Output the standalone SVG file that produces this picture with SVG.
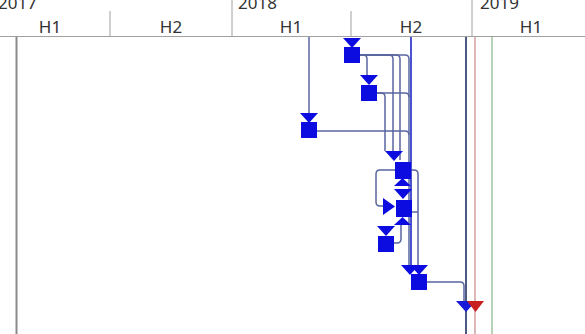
<svg xmlns="http://www.w3.org/2000/svg" width="585" height="334" viewBox="0 0 585 334">
<style>
.hdr{font-family:"Noto Sans","Liberation Sans",sans-serif;font-size:17px;fill:#333}
.grid{stroke:#a0a0a0;stroke-width:1;fill:none}
.conn{stroke:#5a66a0;stroke-width:1.5;fill:none}
.strong{stroke:#2b35c8;stroke-width:1.7;fill:none}
.task{fill:#0c0ce0}
</style>
<defs>
<polygon id="tri" points="-9,0 9,0 0,10" class="task"/>
</defs>
<rect width="585" height="334" fill="#fff"/>
<g id="header">
<text class="hdr" x="-2" y="9">2017</text>
<text class="hdr" x="238" y="9">2018</text>
<text class="hdr" x="480" y="9">2019</text>
<text class="hdr" x="50" y="33" text-anchor="middle">H1</text>
<text class="hdr" x="171" y="33" text-anchor="middle">H2</text>
<text class="hdr" x="291" y="33" text-anchor="middle">H1</text>
<text class="hdr" x="411" y="33" text-anchor="middle">H2</text>
<text class="hdr" x="531" y="33" text-anchor="middle">H1</text>
<line class="grid" x1="110" y1="11" x2="110" y2="36"/>
<line class="grid" x1="232" y1="0" x2="232" y2="36"/>
<line class="grid" x1="351" y1="11" x2="351" y2="36"/>
<line class="grid" x1="472" y1="0" x2="472" y2="36"/>
<line class="grid" x1="0" y1="36.5" x2="585" y2="36.5"/>
<line x1="16.5" y1="37" x2="16.5" y2="334" stroke="#8a8a8a" stroke-width="2"/>
</g>
<g id="markers">
<line x1="466" y1="37" x2="466" y2="334" stroke="#4a5a82" stroke-width="2"/>
<line x1="475" y1="37" x2="475" y2="334" stroke="#d6a6a6" stroke-width="1.6"/>
<line x1="492" y1="37" x2="492" y2="334" stroke="#a6c8a6" stroke-width="1.6"/>
</g>
<g id="connectors">
<path class="conn" d="M360,55 H363 Q367,55 367,59 V76"/>
<path class="conn" d="M360,55 H389 Q393,55 393,59 V151"/>
<path class="conn" d="M360,55 H396 Q400,55 400,59 V160"/>
<path class="conn" d="M360,55 H405 Q409,55 409,59 V266"/>
<path class="conn" d="M377,93 H381 Q385,93 385,97 V151"/>
<path class="conn" d="M377,93 H405 Q409,93 409,97"/>
<path class="conn" d="M317,131 H405 Q409,131 409,135"/>
<path class="conn" d="M309,37 V113"/>
<path class="conn" d="M395,170 H380 Q376,170 376,174 V202 Q376,206 380,206 H384"/>
<path class="conn" d="M411,170 H414 Q418,170 418,174 V266"/>
<path class="conn" d="M411,212 H418"/>
<path class="conn" d="M393,243 H397 Q401,243 401,239 V224"/>
<path class="conn" d="M427,282 H460 Q464,282 464,286 V302"/>
<path class="strong" d="M411,37 V266"/>
</g>
<g id="task-a"><use href="#tri" x="352" y="38"/><rect class="task" x="344" y="47" width="16" height="16"/></g>
<g id="task-b"><use href="#tri" x="369" y="75"/><rect class="task" x="361" y="85" width="16" height="16"/></g>
<g id="task-c"><use href="#tri" x="309" y="113"/><rect class="task" x="301" y="122" width="16" height="16"/></g>
<g id="task-d"><use href="#tri" x="394" y="151"/><rect class="task" x="395" y="162" width="16" height="17"/><polygon class="task" points="394,186 411,186 402.5,178"/></g>
<g id="task-e"><use href="#tri" x="403" y="189"/><polygon class="task" points="383,198 383,215 395,206.5"/><rect class="task" x="396" y="200" width="16" height="17"/><polygon class="task" points="394,225 411,225 402.5,217"/></g>
<g id="task-f"><use href="#tri" x="386" y="226"/><rect class="task" x="378" y="236" width="16" height="16"/></g>
<g id="task-g"><use href="#tri" x="410" y="265"/><use href="#tri" x="419" y="265"/><rect class="task" x="411" y="274" width="16" height="16"/></g>
<g id="milestone-end"><polygon points="456,301 476,301 466,312" fill="#1818d8"/><polygon points="467,301 484,301 475.5,312" fill="#c82020"/></g>
</svg>
